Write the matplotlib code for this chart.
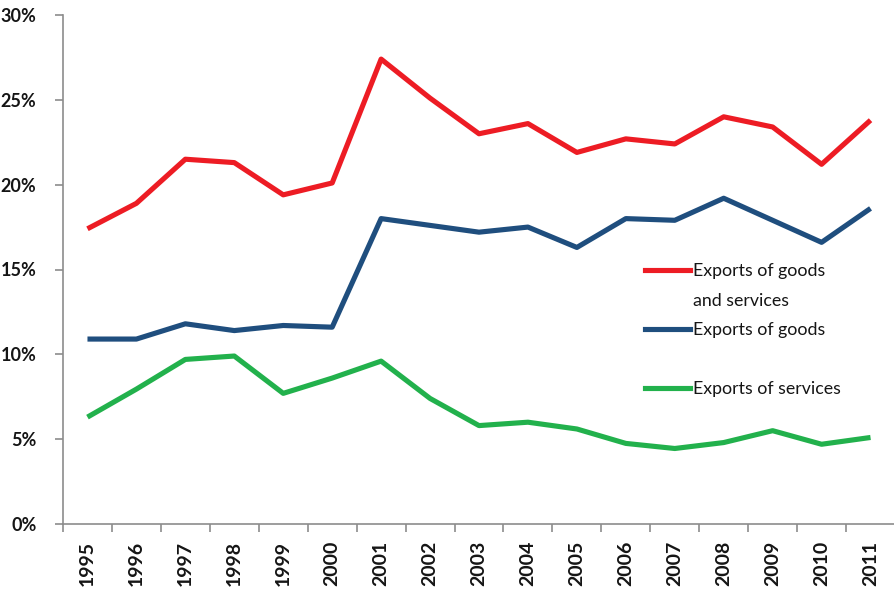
import matplotlib.pyplot as plt
from matplotlib.lines import Line2D
import numpy as np

years = [str(y) for y in range(1995, 2012)]
goods_services = [17.4, 18.9, 21.5, 21.3, 19.4, 20.1, 27.4, 25.1, 23.0, 23.6,
                  21.9, 22.7, 22.4, 24.0, 23.4, 21.2, 23.8]
goods = [10.9, 10.9, 11.8, 11.4, 11.7, 11.6, 18.0, 17.6, 17.2, 17.5,
         16.3, 18.0, 17.9, 19.2, 17.9, 16.6, 18.6]
services = [6.3, 7.95, 9.7, 9.9, 7.7, 8.6, 9.6, 7.4, 5.8, 6.0,
            5.6, 4.75, 4.45, 4.8, 5.5, 4.7, 5.1]
yticks = [0, 5, 10, 15, 20, 25, 30]

red = '#ED1C24'
blue = '#1F4E7E'
green = '#22B14C'
axis_gray = '#8C8C8C'
text_col = '#151515'

plt.rcParams['font.family'] = ['Lato', 'DejaVu Sans']

fig = plt.figure(figsize=(8.95, 5.96), dpi=100)
ax = fig.add_axes([63 / 895, 1 - 524 / 596, 1 - 63 / 895, (524 - 15) / 596])

x = np.arange(len(years))
kw = dict(lw=3.7, solid_joinstyle='round', solid_capstyle='butt')
ax.plot(x, goods_services, color=red, **kw)
ax.plot(x, goods, color=blue, **kw)
ax.plot(x, services, color=green, **kw)

ax.set_xlim(-0.5, len(years) - 0.5)
ax.set_ylim(0, 30)

# category boundaries carry the tick marks, centres carry the labels
ax.set_xticks(np.arange(-0.5, len(years)), [''] * (len(years) + 1))
ax.set_xticks(x, years, minor=True)
ax.tick_params(axis='x', which='major', length=6, width=1.2, color=axis_gray, direction='out')
ax.tick_params(axis='x', which='minor', length=0, pad=12)
for lbl in ax.get_xticklabels(minor=True):
    lbl.set_rotation(90)
    lbl.set_fontsize(14)
    lbl.set_fontweight('bold')
    lbl.set_color(text_col)
    lbl.set_va('top')

ax.set_yticks(yticks, [f'{v}%' for v in yticks])
ax.tick_params(axis='y', length=6, width=1.2, color=axis_gray, pad=13)
for lbl in ax.get_yticklabels():
    lbl.set_fontsize(13)
    lbl.set_fontweight('bold')
    lbl.set_color(text_col)

for side in ['top', 'right']:
    ax.spines[side].set_visible(False)
for side in ['left', 'bottom']:
    ax.spines[side].set_color(axis_gray)
    ax.spines[side].set_linewidth(1.2)

handles = [
    Line2D([], [], color=red, lw=3.7),
    Line2D([], [], color='none'),
    Line2D([], [], color=blue, lw=3.7),
    Line2D([], [], color='none'),
    Line2D([], [], color=green, lw=3.7),
]
labels = ['Exports of goods', 'and services', 'Exports of goods', ' ', 'Exports of services']
leg = ax.legend(handles, labels, loc='upper left', bbox_to_anchor=(645 / 895, 1 - 263 / 596),
                bbox_transform=fig.transFigure, frameon=False, borderpad=0, borderaxespad=0,
                handlelength=2.55, handletextpad=0.15, labelspacing=0.76,
                prop={'size': 12.8})
for t in leg.get_texts():
    t.set_color(text_col)

fig.savefig('out.png', dpi=100)
